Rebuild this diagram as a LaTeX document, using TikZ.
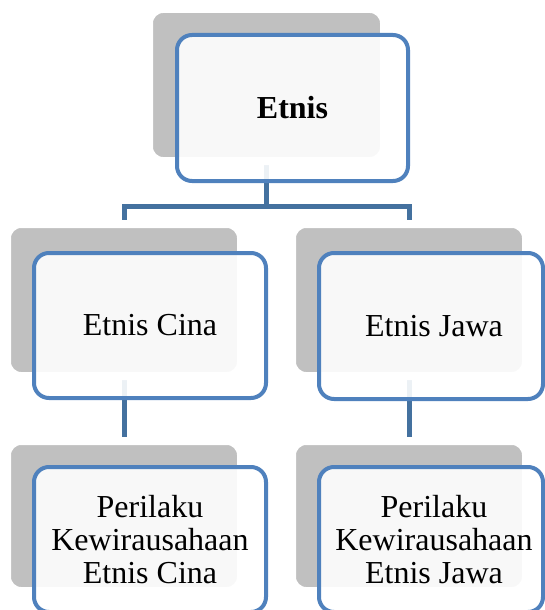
\documentclass[tikz,border=0pt]{standalone}
\usepackage{fontspec}
\setmainfont{Liberation Serif}
\definecolor{boxblue}{HTML}{4F81BD}
\definecolor{linkblue}{HTML}{44719F}
\definecolor{shade}{HTML}{C0C0C0}
\pgfdeclarelayer{bg}
\pgfsetlayers{bg,main}
\tikzset{
  shadowbox/.style={fill=shade, draw=white, line width=8pt, rounded corners=14pt, inner sep=0pt},
  mainbox/.style={draw=boxblue, line width=4pt, fill=white, fill opacity=0.9, text opacity=1,
    rounded corners=15pt, align=center, inner sep=0pt, font=\fontsize{32}{33}\selectfont},
  link/.style={draw=linkblue, line width=5pt},
}
\begin{document}
\begin{tikzpicture}[x=1pt,y=-1pt]
\useasboundingbox (0,0) rectangle (545,610);
% shadow boxes
\node[shadowbox, minimum width=235pt, minimum height=152pt] (s0) at (266.5,85) {};
\node[shadowbox, minimum width=234pt, minimum height=152pt] (s1) at (124,300) {};
\node[shadowbox, minimum width=234pt, minimum height=152pt] (s2) at (409,300) {};
\node[shadowbox, minimum width=234pt, minimum height=150pt] (s3) at (124,516) {};
\node[shadowbox, minimum width=234pt, minimum height=150pt] (s4) at (409,516) {};
% connectors
\coordinate (bus) at (0,206);
\begin{pgfonlayer}{bg}
\draw[link] (s0.center) -- (s0.center |- bus) -| (s1.center);
\draw[link] (s0.center |- bus) -| (s2.center);
\draw[link] (s1.center) -- (s3.center);
\draw[link] (s2.center) -- (s4.center);
\end{pgfonlayer}
% main boxes
\node[mainbox, minimum width=231pt, minimum height=146pt] (etnis) at (292.5,108) {\bfseries Etnis};
\node[mainbox, minimum width=232pt, minimum height=145pt] (cina) at (150,325.5) {Etnis Cina};
\node[mainbox, minimum width=224pt, minimum height=146pt] (jawa) at (431,326) {\hspace*{6pt}Etnis Jawa};
\node[mainbox, minimum width=232pt, minimum height=145pt] (pcina) at (150,539.5) {Perilaku\\Kewirausahaan\\Etnis Cina};
\node[mainbox, minimum width=224pt, minimum height=145pt] (pjawa) at (431,539.5) {\hspace*{6pt}Perilaku\\\hspace*{6pt}Kewirausahaan\\\hspace*{6pt}Etnis Jawa};
\end{tikzpicture}
\end{document}
